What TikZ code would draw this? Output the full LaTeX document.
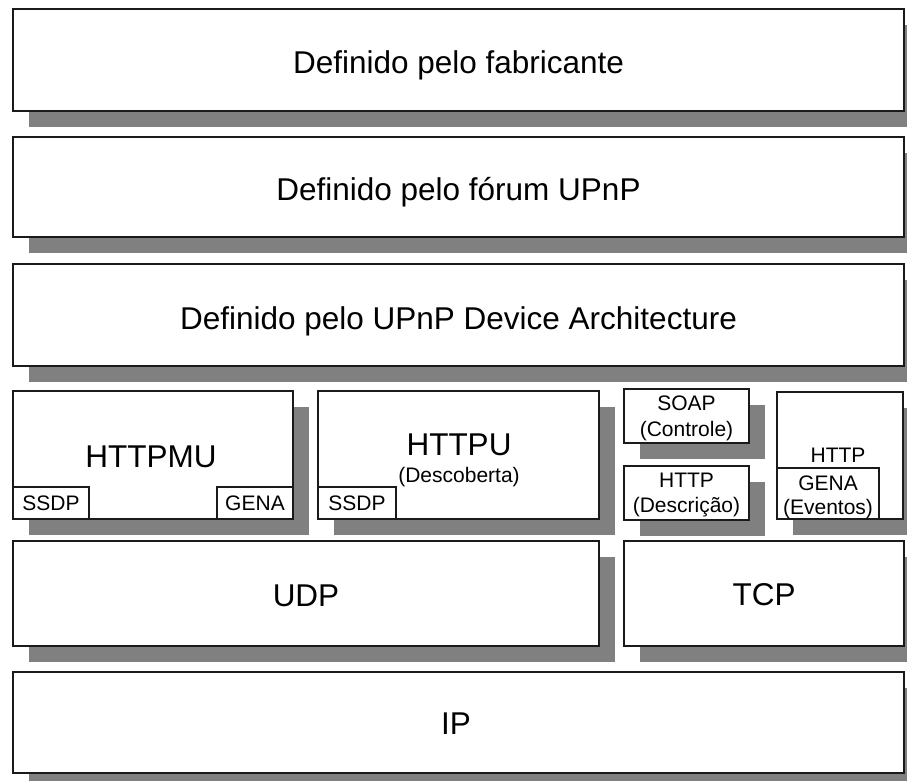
\documentclass[tikz,border=0pt]{standalone}
\usepackage{fontspec}
\setmainfont{Liberation Sans}
\usetikzlibrary{shadows}
\definecolor{shadowgray}{HTML}{808080}
\definecolor{edgegray}{HTML}{1A1A1A}
\tikzset{
  layerbox/.style={draw=edgegray, line width=1.1pt, fill=white, inner sep=0pt, outer sep=0pt,
    drop shadow={shadow xshift=16pt, shadow yshift=-16pt, opacity=1, fill=shadowgray}},
  subbox/.style={draw=edgegray, line width=1.1pt, fill=white, inner sep=0pt, outer sep=0pt},
  bigtxt/.style={font=\fontsize{31.5}{36}\selectfont, inner sep=0pt},
  smalltxt/.style={font=\fontsize{21}{24}\selectfont, inner sep=0pt, align=center},
}
\begin{document}
\begin{tikzpicture}[x=1pt, y=-1pt]
\useasboundingbox (0,0) rectangle (907,780);
\clip (0,0) rectangle (907,780);

% upper layers, spanning the full width
\node[layerbox, minimum width=891pt, minimum height=102pt] (fab) at (458.5,60) {};
\node[bigtxt] (fabt) at (458.5,65) {Definido pelo fabricante};

\node[layerbox, minimum width=891pt, minimum height=100pt] (forum) at (458.5,187) {};
\node[bigtxt] (forumt) at (458.5,192) {Definido pelo fórum UPnP};

\node[layerbox, minimum width=891pt, minimum height=102pt] (uda) at (458.5,315) {};
\node[bigtxt] (udat) at (458.5,321) {Definido pelo UPnP Device Architecture};

% HTTPMU with SSDP and GENA
\node[layerbox, minimum width=280pt, minimum height=128pt] (httpmu) at (153,455) {};
\node[bigtxt] (httpmut) at (151,457) {HTTPMU};
\node[subbox, minimum width=76pt, minimum height=32pt, anchor=south west] (ssdpa) at (httpmu.south west) {};
\node[smalltxt] at (ssdpa.center) {SSDP};
\node[subbox, minimum width=76pt, minimum height=32pt, anchor=south east] (gena) at (httpmu.south east) {};
\node[smalltxt] at (gena.center) {GENA};

% HTTPU with SSDP
\node[layerbox, minimum width=281pt, minimum height=128pt] (httpu) at (458.5,455) {};
\node[bigtxt] (httput) at (459,444.5) {HTTPU};
\node[smalltxt] (desc) at (459,477) {(Descoberta)};
\node[subbox, minimum width=78pt, minimum height=32pt, anchor=south west] (ssdpb) at (httpu.south west) {};
\node[smalltxt] at (ssdpb.center) {SSDP};

% SOAP and HTTP description
\node[layerbox, minimum width=125pt, minimum height=54pt] (soap) at (686.5,416) {};
\node[smalltxt] at (686.5,403) {SOAP};
\node[smalltxt] at (686.5,431) {(Controle)};
\node[layerbox, minimum width=125pt, minimum height=54pt] (httpd) at (686.5,493) {};
\node[smalltxt] at (686.5,480) {HTTP};
\node[smalltxt] at (686.5,507) {(Descrição)};

% HTTP with GENA events
\node[layerbox, minimum width=126pt, minimum height=127pt] (httpg) at (840,455.5) {};
\node[smalltxt] at (838,455) {HTTP};
\node[subbox, minimum width=102pt, minimum height=51pt, anchor=south west] (genae) at (httpg.south west) {};
\node[smalltxt] at (828,483) {GENA};
\node[smalltxt] at (828,509) {(Eventos)};

% transport layers
\node[layerbox, minimum width=586pt, minimum height=105pt] (udp) at (306,593.5) {};
\node[bigtxt] at (306,596) {UDP};
\node[layerbox, minimum width=280pt, minimum height=105pt] (tcp) at (764,593.5) {};
\node[bigtxt] at (764,595) {TCP};

% network layer
\node[layerbox, minimum width=891pt, minimum height=101pt] (ip) at (458.5,722.5) {};
\node[bigtxt] at (456,723.5) {IP};
\end{tikzpicture}
\end{document}
